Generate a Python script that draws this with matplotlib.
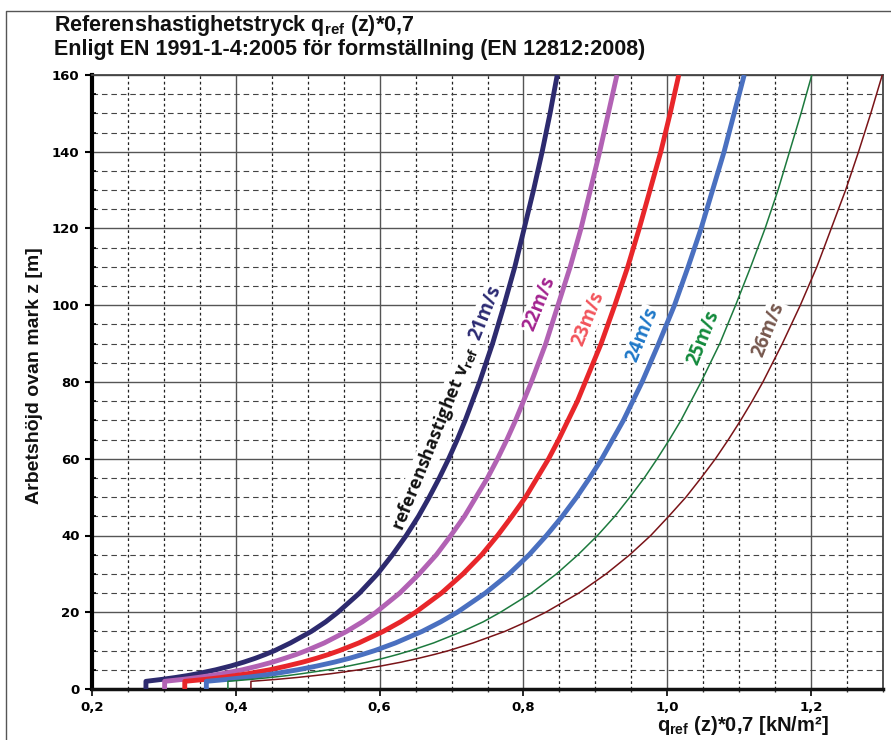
import matplotlib
matplotlib.use('Agg')
import matplotlib.pyplot as plt
from matplotlib import font_manager as fm
from matplotlib.lines import Line2D
from matplotlib.ticker import MultipleLocator, FixedLocator, FuncFormatter

# ---------------- data ----------------
heights = [0, 2, 2.5, 3, 3.5, 4, 5, 6, 7, 8, 9, 10, 12, 15, 17.5, 20, 25, 30, 35, 40, 45,
           50, 55, 60, 65, 70, 75, 80, 90, 100, 110, 120, 130, 140, 150, 160]

q21 = [0.275, 0.275, 0.297, 0.316, 0.333, 0.347, 0.372, 0.393, 0.411, 0.427, 0.441, 0.454,
       0.476, 0.505, 0.525, 0.542, 0.572, 0.597, 0.618, 0.637, 0.654, 0.669, 0.683, 0.696,
       0.708, 0.719, 0.729, 0.739, 0.757, 0.773, 0.788, 0.801, 0.814, 0.826, 0.837, 0.847]
q22 = [0.301, 0.301, 0.326, 0.347, 0.365, 0.381, 0.409, 0.431, 0.451, 0.468, 0.484, 0.498,
       0.523, 0.554, 0.576, 0.595, 0.628, 0.655, 0.679, 0.699, 0.718, 0.734, 0.750, 0.764,
       0.777, 0.789, 0.800, 0.811, 0.831, 0.848, 0.865, 0.880, 0.893, 0.906, 0.918, 0.930]
q23 = [0.329, 0.329, 0.357, 0.380, 0.399, 0.417, 0.447, 0.471, 0.493, 0.512, 0.529, 0.544,
       0.571, 0.605, 0.629, 0.650, 0.686, 0.716, 0.742, 0.764, 0.784, 0.803, 0.819, 0.835,
       0.849, 0.862, 0.875, 0.886, 0.908, 0.927, 0.945, 0.961, 0.976, 0.991, 1.004, 1.016]
q24 = [0.359, 0.359, 0.388, 0.413, 0.435, 0.454, 0.486, 0.513, 0.537, 0.558, 0.576, 0.593,
       0.622, 0.659, 0.685, 0.708, 0.747, 0.780, 0.808, 0.832, 0.854, 0.874, 0.892, 0.909,
       0.924, 0.939, 0.952, 0.965, 0.988, 1.010, 1.029, 1.047, 1.063, 1.079, 1.093, 1.107]
q25 = [0.389, 0.389, 0.421, 0.448, 0.472, 0.492, 0.528, 0.557, 0.583, 0.605, 0.625, 0.643,
       0.675, 0.715, 0.744, 0.768, 0.811, 0.846, 0.876, 0.903, 0.927, 0.948, 0.968, 0.986,
       1.003, 1.019, 1.033, 1.047, 1.073, 1.095, 1.116, 1.136, 1.154, 1.170, 1.186, 1.201]
q26 = [0.421, 0.421, 0.456, 0.485, 0.510, 0.533, 0.571, 0.602, 0.630, 0.654, 0.676, 0.696,
       0.730, 0.774, 0.804, 0.831, 0.877, 0.915, 0.948, 0.977, 1.002, 1.026, 1.047, 1.067,
       1.085, 1.102, 1.118, 1.133, 1.160, 1.185, 1.208, 1.228, 1.248, 1.266, 1.283, 1.299]

speed_labels = ['21m/s', '22m/s', '23m/s', '24m/s', '25m/s', '26m/s']
x_major_ticks = [0.2, 0.4, 0.6, 0.8, 1.0, 1.2]
title_line1 = 'Referenshastighetstryck q$_\\mathregular{ref}$ (z)*0,7'
title_line2 = 'Enligt EN 1991-1-4:2005 för formställning (EN 12812:2008)'
ylabel_text = 'Arbetshöjd ovan mark z [m]'
xlabel_text = 'q$_\\mathregular{ref}$ (z)*0,7 [kN/m²]'
ref_text = 'referenshastighet v$_\\mathregular{ref}$'

# ---------------- styles ----------------
line_colors = ['#2d2a6e', '#b262b4', '#e8262a', '#4a70c0', '#1d7a3e', '#7a1418']
line_widths = [3.5, 3.5, 3.5, 3.5, 1.1, 1.1]
label_colors = ['#2b2a72', '#a3238f', '#f2545b', '#1f78c8', '#138a3c', '#76574d']
label_pos = [(0.7465, 98.0), (0.8216, 100.3), (0.8898, 96.4), (0.9649, 92.3),
             (1.0497, 91.5), (1.1401, 93.6)]
ref_pos = (0.677, 65.4)
label_rot = 68

names = {f.name for f in fm.fontManager.ttflist}
label_font = 'Open Sans' if 'Open Sans' in names else 'DejaVu Sans'

plt.rcParams['font.family'] = ['DejaVu Sans']
plt.rcParams['font.weight'] = 'bold'

W, H = 891, 740
fig = plt.figure(figsize=(W / 100, H / 100), dpi=100)
ax = fig.add_axes([92 / W, 51 / H, 791 / W, 614 / H])
ax.set_xlim(0.2, 1.3)
ax.set_ylim(0, 160)
ax.set_axisbelow(True)

ax.xaxis.set_major_locator(FixedLocator(x_major_ticks))
ax.xaxis.set_minor_locator(MultipleLocator(0.05))
ax.yaxis.set_major_locator(MultipleLocator(20))
ax.yaxis.set_minor_locator(MultipleLocator(5))
ax.xaxis.set_major_formatter(FuncFormatter(lambda v, p: f"{v:.1f}".replace('.', ',')))
ax.yaxis.set_major_formatter(FuncFormatter(lambda v, p: f"{int(round(v))}"))

ax.xaxis.grid(True, which='major', color='#555555', lw=1.0, ls='-')
ax.yaxis.grid(True, which='major', color='#555555', lw=1.0, ls='-')
ax.xaxis.grid(True, which='minor', color='#222222', lw=0.9, ls=(0, (2.2, 2.2)))
ax.yaxis.grid(True, which='minor', color='#444444', lw=0.8, ls=(0, (5, 3.5)))

ax.spines['left'].set_linewidth(3.0)
ax.spines['left'].set_color('black')
ax.spines['bottom'].set_linewidth(2.5)
ax.spines['bottom'].set_color('#111111')
for s in ('top', 'right'):
    ax.spines[s].set_linewidth(1.3)
    ax.spines[s].set_color('#444444')

ax.tick_params(axis='y', which='major', direction='out', length=5, width=1.5,
               color='black', pad=4, labelsize=9.5)
ax.tick_params(axis='y', which='minor', direction='in', length=3, width=1.2, color='black')
ax.tick_params(axis='x', which='major', direction='out', length=5, width=1.2,
               color='black', pad=3.5, labelsize=9.5)
ax.tick_params(axis='x', which='minor', direction='out', length=2.5, width=1.0, color='#333333')

series = [q21, q22, q23, q24, q25, q26]
for q, c, lw in zip(series, line_colors, line_widths):
    ax.plot(q, heights, color=c, lw=lw, solid_capstyle='butt',
            solid_joinstyle='round', zorder=3)

for (x, y), s, c in zip(label_pos, speed_labels, label_colors):
    ax.text(x, y, s, rotation=label_rot, rotation_mode='anchor', ha='center', va='center',
            color=c, fontsize=13.5, fontweight='bold', family=label_font, zorder=2.5,
            bbox=dict(facecolor='white', edgecolor='none', pad=1.0))

ax.text(ref_pos[0], ref_pos[1], ref_text, rotation=label_rot, rotation_mode='anchor',
        ha='center', va='center', color='#111111', fontsize=13, fontweight='bold',
        family=label_font, zorder=2.5,
        bbox=dict(facecolor='white', edgecolor='none', pad=1.0))

fig.text(54 / W, 1 - 26 / H, title_line1, ha='left', va='center', fontsize=15.5,
         fontweight='bold', family='Liberation Sans', color='#111111')
fig.text(54 / W, 1 - 49 / H, title_line2, ha='left', va='center', fontsize=15.5,
         fontweight='bold', family='Liberation Sans', color='#111111')

fig.text(35 / W, 1 - 376 / H, ylabel_text, rotation=90, ha='center', va='center',
         fontsize=14, fontweight='bold', family='Liberation Sans', color='#111111')
fig.text(657 / W, 1 - 731 / H, xlabel_text, ha='left', va='baseline',
         fontsize=14.5, fontweight='bold', family='Liberation Sans', color='#111111')

fig.add_artist(Line2D([6 / W, 6 / W, 1.0], [0.0, 1 - 11 / H, 1 - 11 / H],
                      transform=fig.transFigure, color='#555555', lw=1.0))

fig.savefig('out.png', dpi=100)
